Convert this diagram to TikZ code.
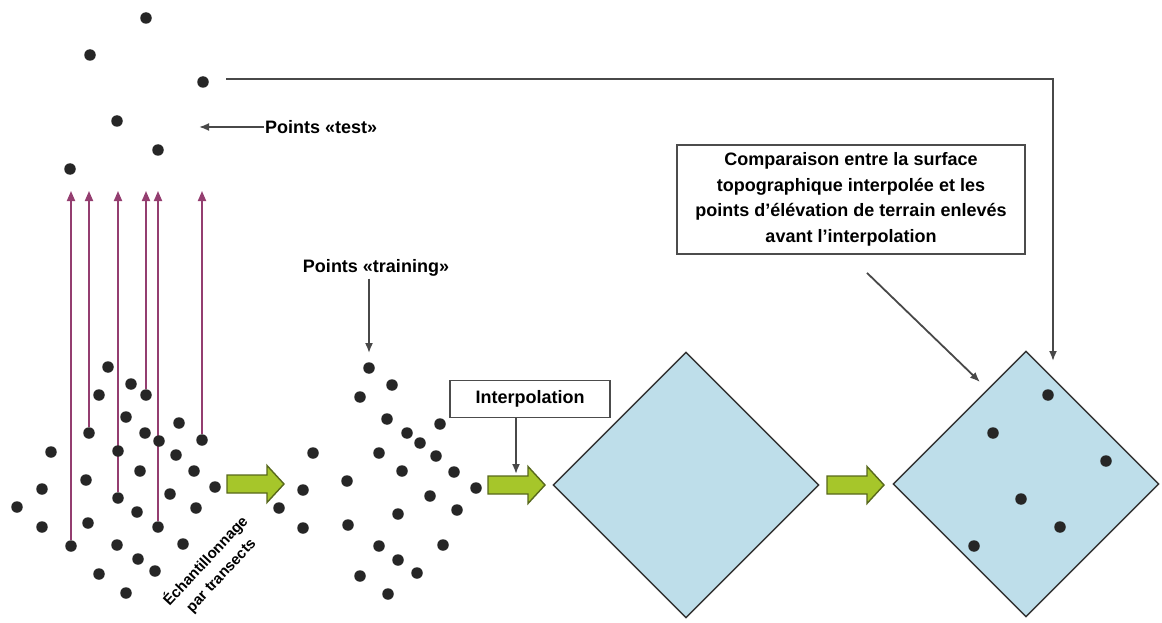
\documentclass[tikz,border=0pt]{standalone}
\usepackage{fontspec}
\setmainfont{Liberation Sans}
\usepackage{xcolor}
\usepackage{tikz}
\usetikzlibrary{arrows}
\usetikzlibrary{arrows.meta}
\usetikzlibrary{shapes.geometric}

\definecolor{transect}{RGB}{148,62,112}
\definecolor{surface}{RGB}{190,222,234}
\definecolor{vert}{RGB}{166,198,42}
\definecolor{vertfonce}{RGB}{88,104,28}
\definecolor{trait}{RGB}{72,72,72}

\pgfdeclarelayer{fond}
\pgfsetlayers{fond,main}

\begin{document}
\begin{tikzpicture}[x=1pt, y=-1pt, font=\bfseries\fontsize{18}{25.5}\selectfont,
    point/.style={circle, fill=black!85, inner sep=0pt, minimum size=11.5pt},
    fl/.style={draw=trait, line width=1.8pt, -{Latex[length=10pt, width=8pt]}},
    tr/.style={draw=transect, line width=1.8pt, -{Triangle[length=10pt, width=8pt]}},
    fleche/.pic={\filldraw[draw=vertfonce, fill=vert, line width=1.4pt]
      (0,-9) -- (40,-9) -- (40,-18.5) -- (57,0) -- (40,18.5) -- (40,9) -- (0,9) -- cycle;},
    surf/.style={diamond, draw=black!80, fill=surface, line width=1.4pt,
      inner sep=0pt, minimum width=266pt, minimum height=266pt},
    boite/.style={draw=black!70, line width=1.8pt, inner sep=0pt, align=center}]
    \useasboundingbox (0,0) rectangle (1162,623);

    % points test
    \foreach \x/\y [count=\i] in {146/18, 90/55, 203/82, 117/121, 158/150, 70/169}
      \node[point] (p\i) at (\x,\y) {};
    \node[anchor=west, inner sep=1pt] (ptest) at (264,127) {Points «test»};
    \coordinate (flt) at (199,127);
    \draw[fl] (ptest.west) -- (flt);

    % transects
    \coordinate (haut) at (0,191);
    \foreach \x/\y [count=\i] in {71/546, 89/433, 118/498, 146/395, 158/527, 202/440}
      \node[point] (t\i) at (\x,\y) {};
    \begin{pgfonlayer}{fond}
      \foreach \i in {1,...,6}
        \draw[tr] (t\i) -- (t\i |- haut);
    \end{pgfonlayer}
    \foreach \x/\y [count=\i] in {108/367, 131/384, 99/395, 126/417, 179/423, 145/433,
        51/452, 176/455, 140/471, 194/471, 86/480, 42/489, 215/487, 170/494,
        17/507, 137/512, 196/508, 42/527, 88/523, 117/545, 183/544, 138/559,
        155/571, 99/574, 126/593, 118/451, 159/441}
      \node[point] (g\i) at (\x,\y) {};
    \node[rotate=47, align=center, font=\bfseries\fontsize{15}{21}\selectfont]
      (echant) at (213,568) {Échantillonnage\\par transects};

    \pic (f1) at (227,484) {fleche};

    % points training
    \foreach \x/\y [count=\i] in {369/368, 392/385, 360/397, 387/419, 440/424,
        407/433, 420/443, 436/456, 313/453, 379/453, 402/471, 454/472, 347/481,
        303/490, 476/488, 430/496, 457/510, 398/514, 279/508, 303/528, 348/525,
        379/546, 443/545, 398/560, 417/573, 360/576, 388/594}
      \node[point] (m\i) at (\x,\y) {};
    \node[inner sep=2pt] (ptrain) at (376,268) {Points «training»};
    \draw[fl] (ptrain.south -| m1) -- ([yshift=9pt]m1.north);

    \pic (f2) at (488,485) {fleche};
    \node[boite, minimum width=160pt, minimum height=37pt] (interp) at (530,399) {Interpolation};
    \coordinate (f2h) at (516,474);
    \draw[fl] (interp.south -| f2h) -- (f2h);

    % surfaces
    \node[surf] (d1) at (686,485) {};
    \pic (f3) at (827,485) {fleche};
    \node[surf] (d2) at (1026,484) {};
    \foreach \x/\y [count=\i] in {1048/395, 993/433, 1106/461, 1021/499, 1060/527, 974/546}
      \node[point] (v\i) at (\x,\y) {};

    % comparaison
    \node[boite, minimum width=348pt, minimum height=109pt] (comp) at (851,199.5)
      {Comparaison entre la surface\\topographique interpolée et les\\points d’élévation de terrain enlevés\\avant l’interpolation};
    \coordinate (c2) at (980,382);
    \draw[fl] ([shift={(16pt,-18pt)}]comp.south) -- (c2);
    \coordinate (dep) at (226,79);
    \coordinate (cible) at (1053,361);
    \draw[fl] (dep) -| (cible);
  \end{tikzpicture}
\end{document}
